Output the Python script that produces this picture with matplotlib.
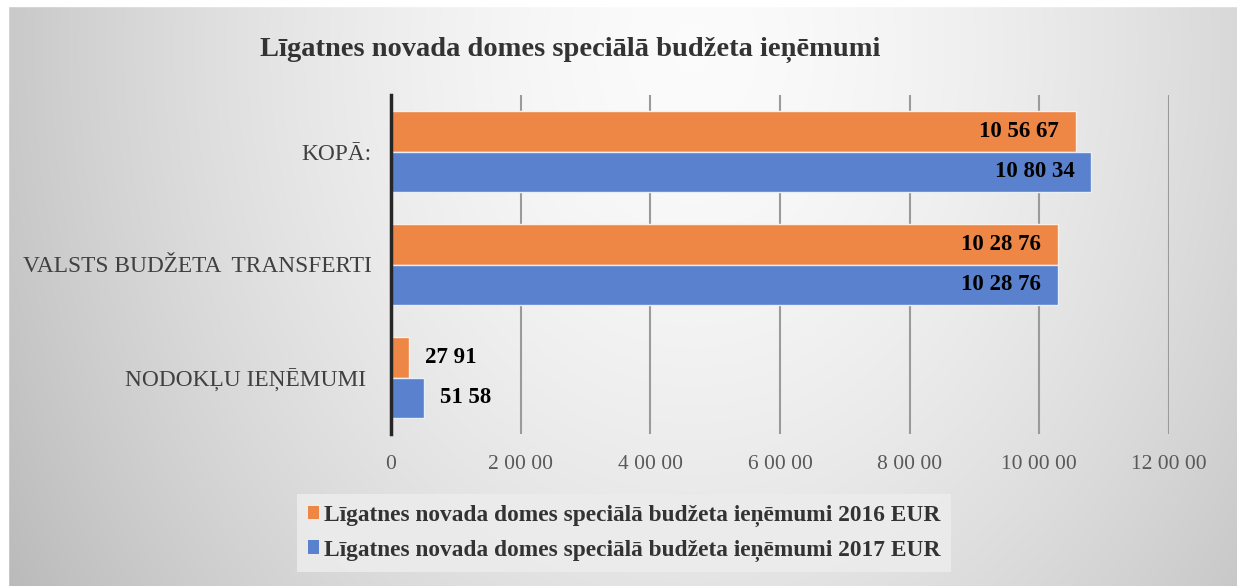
import numpy as np
import matplotlib
matplotlib.use("Agg")
import matplotlib.pyplot as plt
from matplotlib.patches import Patch, Rectangle

# ---- data ----
categories = ["NODOKĻU IEŅĒMUMI ", "VALSTS BUDŽETA  TRANSFERTI", "KOPĀ:"]
values_2016 = [2791, 102876, 105667]
values_2017 = [5158, 102876, 108034]
series_names = ["Līgatnes novada domes speciālā budžeta ieņēmumi 2016 EUR",
                "Līgatnes novada domes speciālā budžeta ieņēmumi 2017 EUR"]
title = "Līgatnes novada domes speciālā budžeta ieņēmumi"
x_ticks = [0, 20000, 40000, 60000, 80000, 100000, 120000]

C_ORANGE = "#EE8646"
C_BLUE = "#5981CD"
SERIF = ["Liberation Serif", "DejaVu Serif"]


def fmt(v):
    s = str(int(round(v)))
    groups = []
    while len(s) > 2:
        groups.insert(0, s[-2:])
        s = s[:-2]
    groups.insert(0, s)
    return " ".join(groups)


W, H = 1237, 586
fig = plt.figure(figsize=(W / 100, H / 100), dpi=100)

# background gradient
bg = fig.add_axes([0, 0, 1, 1], zorder=-10)
xx, yy = np.meshgrid(np.linspace(0, 1, 600), np.linspace(0, 1, 300))
d = np.sqrt(((xx - 0.56) / 0.56) ** 2 + ((yy - 0.92) / 1.5) ** 2)
val = np.clip(0.985 - 0.20 * d ** 1.6, 0, 1)
img = np.dstack([val, val, val])
bg.imshow(img, extent=[0, 1, 0, 1], origin="lower", aspect="auto")
bg.add_patch(Rectangle((0, 1 - 6 / H), 1, 6 / H, color="white", transform=bg.transAxes))
bg.add_patch(Rectangle((0, 0), 8 / W, 1, color="white", transform=bg.transAxes))
bg.set_xlim(0, 1)
bg.set_ylim(0, 1)
bg.axis("off")

# main axes
left, right, top, bottom = 391, 1169, 95, 434
ax = fig.add_axes([left / W, 1 - bottom / H, (right - left) / W, (bottom - top) / H])
ax.patch.set_alpha(0)

y = np.arange(len(categories))
h = 0.36
b16 = ax.barh(y + h / 2, values_2016, height=h, color=C_ORANGE, edgecolor="#FBEFE6",
              linewidth=1.0, zorder=3)
b17 = ax.barh(y - h / 2, values_2017, height=h, color=C_BLUE, edgecolor="#E6EEF8",
              linewidth=1.0, zorder=3)

ax.set_xlim(0, 120000)
ax.set_ylim(-0.5, 2.5)
ax.set_xticks(x_ticks)
ax.set_xticklabels([fmt(v) for v in x_ticks], family=SERIF, fontsize=15.5, color="#595959")
ax.set_yticks(y)
ax.set_yticklabels(categories, family=SERIF, fontsize=16.8, color="#404040")
ax.tick_params(axis="both", length=0)
ax.tick_params(axis="x", pad=15)
ax.tick_params(axis="y", pad=14)
ax.grid(axis="x", color="#9A9A9A", linewidth=1.5, zorder=1)
for sp in ["top", "right", "bottom"]:
    ax.spines[sp].set_visible(False)
ax.spines["left"].set_color("#262626")
ax.spines["left"].set_linewidth(2.5)
ax.spines["left"].set_zorder(5)

for bars, vals in ((b16, values_2016), (b17, values_2017)):
    for rect, v in zip(bars, vals):
        yc = rect.get_y() + rect.get_height() / 2
        if v > 50000:
            ax.annotate(fmt(v), (v, yc), xytext=(-17, 0), textcoords="offset pixels",
                        ha="right", va="center", family=SERIF, fontweight="bold",
                        fontsize=16.5, color="black", zorder=6)
        else:
            ax.annotate(fmt(v), (v, yc), xytext=(16, 0), textcoords="offset pixels",
                        ha="left", va="center", family=SERIF, fontweight="bold",
                        fontsize=16.5, color="black", zorder=6)

fig.text(570 / W, 1 - 50 / H, title, ha="center", va="center", family=SERIF,
         fontweight="bold", fontsize=20.5, color="#333333")

handles = [Patch(facecolor=C_ORANGE, edgecolor="none"), Patch(facecolor=C_BLUE, edgecolor="none")]
leg = fig.legend(handles, series_names, loc="center", bbox_to_anchor=(624 / W, 1 - 533 / H),
                 ncol=1, frameon=True, fancybox=False, prop={"family": SERIF, "weight": "bold", "size": 16.8},
                 handlelength=0.5, handleheight=0.5, handletextpad=0.2, labelspacing=0.55,
                 borderpad=0.45, borderaxespad=0)
leg.get_frame().set_facecolor("#ECECEC")
leg.get_frame().set_edgecolor("none")
leg.get_frame().set_alpha(0.9)
for t in leg.get_texts():
    t.set_color("#333333")

fig.savefig("out.png", dpi=100)
